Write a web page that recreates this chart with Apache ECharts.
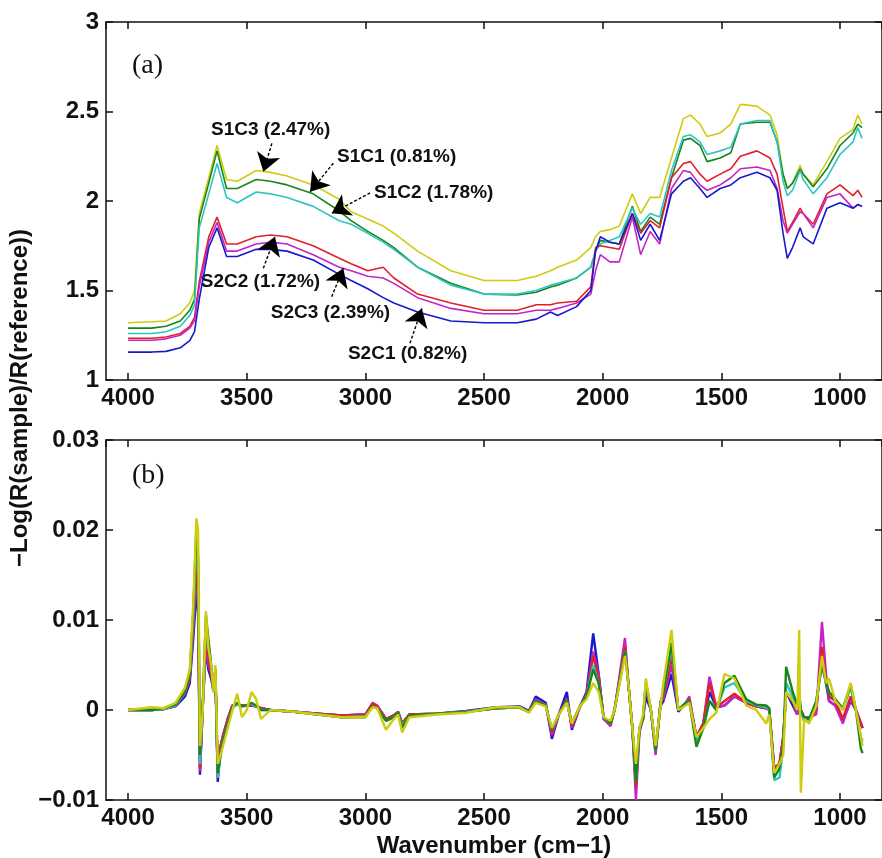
<!DOCTYPE html>
<html>
<head>
  <meta charset="UTF-8" />
  <title>Spectra S1/S2</title>
  <script src="https://cdn.jsdelivr.net/npm/echarts@6/dist/echarts.min.js"></script>
  <style>
    body { margin: 0; background: #fff; }
    #main { width: 882px; height: 858px; }
  </style>
</head>
<body>
  <div id="main"></div>
  <script>
    // ---- panel (a): spectra ----
    const wnA = [
      4000, 3900, 3840, 3780, 3740, 3720, 3700, 3660, 3625, 3585,
      3540, 3460, 3400, 3330, 3220, 3110, 3060, 2990, 2925, 2880,
      2780, 2640, 2500, 2360, 2280, 2220, 2190, 2110, 2050, 2030,
      2010, 1970, 1930, 1875, 1840, 1800, 1760, 1710, 1660, 1630,
      1590, 1560, 1505, 1460, 1420, 1350, 1295, 1265, 1240, 1222,
      1200, 1168, 1155, 1113, 1055, 1000, 945, 925, 907
    ];
    const aS1C3 = [
      1.32, 1.325, 1.33, 1.37, 1.43, 1.50, 1.93, 2.13, 2.31, 2.12,
      2.11, 2.17, 2.16, 2.14, 2.09, 2.01, 1.94, 1.90, 1.86, 1.82,
      1.72, 1.61, 1.556, 1.556, 1.58, 1.61, 1.63, 1.67, 1.74, 1.80,
      1.83, 1.84, 1.86, 2.04, 1.93, 2.02, 2.02, 2.24, 2.46, 2.48,
      2.43, 2.36, 2.38, 2.43, 2.54, 2.53, 2.48, 2.37, 2.15, 2.07,
      2.10, 2.20, 2.15, 2.09, 2.22, 2.35, 2.40, 2.48, 2.43
    ];
    const aS1C1 = [
      1.29, 1.29, 1.30, 1.33, 1.39, 1.45, 1.90, 2.10, 2.28, 2.07,
      2.07, 2.12, 2.11, 2.09, 2.04, 1.944, 1.89, 1.83, 1.78, 1.74,
      1.63, 1.54, 1.48, 1.475, 1.49, 1.52, 1.53, 1.57, 1.63, 1.72,
      1.78, 1.77, 1.76, 1.97, 1.83, 1.91, 1.87, 2.13, 2.34, 2.35,
      2.31, 2.22, 2.24, 2.27, 2.43, 2.44, 2.44, 2.33, 2.15, 2.07,
      2.10, 2.18, 2.15, 2.08, 2.18, 2.31, 2.38, 2.43, 2.41
    ];
    const aS1C2 = [
      1.26, 1.26, 1.27, 1.30, 1.36, 1.42, 1.85, 2.04, 2.21, 2.02,
      1.99, 2.05, 2.04, 2.02, 1.97, 1.89, 1.87, 1.82, 1.77, 1.73,
      1.63, 1.53, 1.48, 1.48, 1.50, 1.53, 1.54, 1.57, 1.63, 1.72,
      1.76, 1.78, 1.80, 1.96, 1.87, 1.93, 1.91, 2.17, 2.36, 2.37,
      2.33, 2.26, 2.28, 2.30, 2.43, 2.45, 2.45, 2.33, 2.11, 2.03,
      2.06, 2.17, 2.12, 2.04, 2.13, 2.26, 2.33, 2.41, 2.35
    ];
    const aS2C2 = [
      1.233, 1.233, 1.24, 1.26, 1.30, 1.35, 1.55, 1.80, 1.91, 1.76,
      1.76, 1.80, 1.81, 1.80, 1.75, 1.68, 1.65, 1.61, 1.63, 1.57,
      1.48, 1.43, 1.39, 1.39, 1.42, 1.42, 1.43, 1.44, 1.52, 1.74,
      1.75, 1.74, 1.73, 1.93, 1.82, 1.89, 1.85, 2.13, 2.21, 2.22,
      2.15, 2.11, 2.15, 2.18, 2.25, 2.28, 2.24, 2.15, 1.96, 1.83,
      1.88, 1.96, 1.93, 1.87, 2.04, 2.09, 2.03, 2.06, 2.02
    ];
    const aS2C3 = [
      1.222, 1.222, 1.23, 1.25, 1.29, 1.33, 1.52, 1.77, 1.88, 1.72,
      1.72, 1.76, 1.77, 1.76, 1.70, 1.63, 1.61, 1.58, 1.57, 1.54,
      1.46, 1.40, 1.37, 1.37, 1.39, 1.39, 1.40, 1.43, 1.48, 1.61,
      1.70, 1.66, 1.66, 1.91, 1.70, 1.83, 1.76, 2.07, 2.17, 2.16,
      2.09, 2.06, 2.09, 2.13, 2.18, 2.19, 2.17, 2.07, 1.89, 1.82,
      1.87, 1.94, 1.93, 1.85, 2.02, 2.04, 1.96, 1.98, 1.97
    ];
    const aS2C1 = [
      1.156, 1.156, 1.16, 1.18, 1.22, 1.27, 1.45, 1.74, 1.85, 1.69,
      1.69, 1.73, 1.73, 1.72, 1.67, 1.59, 1.556, 1.51, 1.46, 1.43,
      1.38, 1.33, 1.32, 1.32, 1.34, 1.38, 1.36, 1.41, 1.50, 1.72,
      1.80, 1.77, 1.76, 1.93, 1.78, 1.87, 1.78, 2.04, 2.11, 2.13,
      2.07, 2.02, 2.07, 2.09, 2.13, 2.16, 2.13, 2.06, 1.82, 1.68,
      1.74, 1.85, 1.80, 1.76, 1.96, 1.99, 1.96, 1.98, 1.97
    ];

    // ---- panel (b): difference spectra ----
    const wnB = [
      4000, 3900, 3850, 3800, 3760, 3740, 3725, 3712, 3705, 3697,
      3685, 3672, 3662, 3650, 3640, 3632, 3622, 3610, 3600, 3580,
      3560, 3540, 3520, 3500, 3480, 3460, 3440, 3400, 3300, 3200,
      3100, 3000, 2970, 2950, 2913, 2880, 2862, 2845, 2815, 2700,
      2575, 2450, 2350, 2311, 2282, 2240, 2214, 2185, 2151, 2130,
      2094, 2068, 2040, 2017, 1996, 1967, 1950, 1906, 1892, 1875,
      1860, 1845, 1830, 1818, 1797, 1777, 1756, 1744, 1710, 1681,
      1650, 1635, 1605, 1576, 1550, 1521, 1487, 1445, 1395, 1353,
      1311, 1298, 1277, 1255, 1239, 1227, 1199, 1180, 1172, 1165,
      1151, 1130, 1100, 1076, 1059, 1046, 1020, 988, 955, 933,
      912, 905
    ];
    const bS1C3 = [
      0, 0.0003, 0.0002, 0.0008, 0.0025, 0.0045, 0.012, 0.0213, 0.02, -0.004,
      0, 0.011, 0.007, 0.005, 0.002, 0.005, -0.006, -0.005, -0.004, -0.002,
      0, 0.0018, -0.0008, 0, 0.002, 0.0012, -0.001, 0, -0.0002, -0.0005,
      -0.0008, -0.0008, 0.0003, 0.0002, -0.0022, -0.001, -0.0005, -0.0025, -0.0008, -0.0005,
      -0.0003, 0.0003, 0.0003, -0.0003, 0.0008, 0.0004, -0.002, -0.0005, 0.0008, -0.0015,
      0.0005, 0.0012, 0.003, 0.002, -0.0008, -0.0012, 0, 0.006, 0.003, -0.002,
      -0.006, -0.002, -0.0005, 0.0035, 0, -0.004, 0.0005, 0.003, 0.0089, 0,
      0.0005, 0.0008, -0.003, -0.002, -0.001, -0.0003, 0.004, 0.0035, 0.0005, 0,
      -0.0015, -0.0005, -0.007, -0.006, -0.005, 0.002, 0.001, 0, 0.0089, -0.0092,
      -0.001, -0.0015, 0.0005, 0.006, 0.003, 0.0035, 0.001, 0, 0.003, 0,
      -0.003, -0.004
    ];
    const bS1C1 = [
      0, 0, 0.0002, 0.0006, 0.002, 0.004, 0.011, 0.0205, 0.017, -0.005,
      0.001, 0.0105, 0.008, 0.005, 0.0025, 0.004, -0.007, -0.005, -0.0035, -0.0015,
      0.0003, 0.0008, 0.0004, 0.0005, 0.0008, 0.0005, 0, 0, -0.0002, -0.0005,
      -0.0008, -0.0008, 0.0004, 0.0002, -0.0012, -0.0008, -0.0003, -0.002, -0.0006, -0.0004,
      -0.0002, 0.0002, 0.0003, -0.0002, 0.001, 0.0005, -0.0022, -0.0005, 0.001, -0.0015,
      0.0005, 0.0015, 0.0045, 0.003, -0.0008, -0.0015, 0, 0.0065, 0.003, -0.002,
      -0.008, -0.002, -0.001, 0.003, 0, -0.0045, 0.0008, 0.002, 0.0075, 0,
      0.0008, 0.001, -0.0041, -0.002, 0.001, 0, 0.003, 0.0038, 0.0012, 0.0006,
      0.0005, 0.0002, -0.0075, -0.0065, -0.004, 0.0048, 0.002, 0.0005, 0.002, 0,
      -0.0008, -0.001, 0.001, 0.005, 0.003, 0.002, 0.0012, 0.0002, 0.0028, 0,
      -0.0043, -0.0048
    ];
    const bS1C2 = [
      0, 0, 0.0001, 0.0005, 0.002, 0.004, 0.0105, 0.019, 0.016, -0.006,
      0.0005, 0.009, 0.0075, 0.005, 0.002, 0.004, -0.0075, -0.005, -0.0035, -0.0015,
      0.0003, 0.0006, 0.0004, 0.0005, 0.0007, 0.0004, 0, 0, -0.0002, -0.0005,
      -0.0008, -0.0007, 0.0004, 0.0002, -0.0012, -0.0008, -0.0003, -0.0018, -0.0006, -0.0004,
      -0.0002, 0.0002, 0.0003, -0.0002, 0.001, 0.0005, -0.0022, -0.0005, 0.001, -0.0015,
      0.0005, 0.0015, 0.005, 0.003, -0.0008, -0.0015, 0, 0.0065, 0.003, -0.002,
      -0.008, -0.002, -0.001, 0.003, 0, -0.0045, 0.0008, 0.002, 0.007, 0,
      0.0008, 0.001, -0.0035, -0.002, 0.001, 0, 0.0025, 0.003, 0.001, 0.0005,
      0.0003, 0, -0.0078, -0.0075, -0.004, 0.003, 0.0015, 0.0003, 0.0015, 0,
      -0.0012, -0.0012, 0.001, 0.005, 0.003, 0.002, 0.0012, 0, 0.0025, 0,
      -0.003, -0.0035
    ];
    const bS2C2 = [
      0, 0, 0.0001, 0.0005, 0.002, 0.0035, 0.01, 0.017, 0.013, -0.0065,
      0.0005, 0.008, 0.006, 0.004, 0.0025, 0.0045, -0.0075, -0.004, -0.003, -0.001,
      0.0005, 0.0006, 0.0005, 0.0005, 0.0005, 0.0004, 0.0002, 0, -0.0002, -0.0004,
      -0.0006, -0.0005, 0.0007, 0.0004, -0.001, -0.0006, -0.0002, -0.0015, -0.0005, -0.0004,
      -0.0002, 0.0002, 0.0003, -0.0002, 0.001, 0.0006, -0.0025, -0.0005, 0.0012, -0.0018,
      0.0005, 0.0016, 0.006, 0.0035, -0.0008, -0.0016, 0, 0.007, 0.003, -0.002,
      -0.0085, -0.002, -0.001, 0.003, 0, -0.0045, 0.0008, 0.0015, 0.006, 0,
      0.0008, 0.0012, -0.003, -0.0015, 0.003, 0.0003, 0.001, 0.0018, 0.0008, 0.0004,
      0.0002, 0, -0.0065, -0.006, -0.003, 0.002, 0.001, 0, 0.001, 0,
      -0.0012, -0.0012, 0, 0.007, 0.003, 0.0015, 0.001, -0.001, 0.0015, 0,
      -0.0015, -0.002
    ];
    const bS2C3 = [
      0, 0, 0.0001, 0.0005, 0.0018, 0.0035, 0.009, 0.015, 0.012, -0.0068,
      0.0005, 0.0075, 0.005, 0.004, 0.0025, 0.0045, -0.0075, -0.004, -0.003, -0.001,
      0.0005, 0.0006, 0.0005, 0.0005, 0.0005, 0.0004, 0.0002, 0, -0.0002, -0.0004,
      -0.0006, -0.0005, 0.0008, 0.0005, -0.001, -0.0006, -0.0002, -0.0015, -0.0005, -0.0004,
      -0.0002, 0.0002, 0.0003, -0.0002, 0.0012, 0.0006, -0.0028, -0.0005, 0.0012, -0.002,
      0.0005, 0.0018, 0.0065, 0.004, -0.001, -0.0018, 0, 0.008, 0.003, -0.002,
      -0.01, -0.0025, -0.001, 0.0025, 0, -0.005, 0.001, 0.0012, 0.005, 0,
      0.0008, 0.0015, -0.003, -0.0015, 0.0037, 0.0003, 0.0005, 0.0015, 0.0008, 0.0004,
      0.0002, 0, -0.0065, -0.006, -0.003, 0.002, 0.001, -0.0005, 0.0008, 0,
      -0.0008, -0.0008, -0.0005, 0.0098, 0.004, 0.001, 0.0005, -0.0015, 0.0012, 0,
      -0.0015, -0.002
    ];
    const bS2C1 = [
      0, 0, 0.0001, 0.0004, 0.0015, 0.003, 0.008, 0.013, 0.011, -0.0072,
      0.0005, 0.007, 0.0045, 0.0035, 0.002, 0.004, -0.008, -0.004, -0.0028, -0.001,
      0.0005, 0.0006, 0.0005, 0.0005, 0.0005, 0.0004, 0.0002, 0, -0.0002, -0.0004,
      -0.0006, -0.0005, 0.0006, 0.0004, -0.001, -0.0006, -0.0002, -0.0015, -0.0005, -0.0004,
      -0.0001, 0.0003, 0.0004, -0.0001, 0.0015, 0.0008, -0.0032, -0.0005, 0.002, -0.0022,
      0.0005, 0.002, 0.0085, 0.004, -0.001, -0.0015, 0, 0.007, 0.003, -0.002,
      -0.008, -0.002, -0.001, 0.0015, 0, -0.0045, 0.0005, 0.001, 0.004, -0.0002,
      0.0008, 0.001, -0.003, -0.0015, 0.002, 0.0003, 0.0005, 0.0015, 0.0008, 0.0004,
      0.0002, 0, -0.0065, -0.006, -0.003, 0.002, 0.0005, -0.0005, 0.0005, 0,
      -0.001, -0.001, 0, 0.0065, 0.003, 0.001, 0.0005, -0.0012, 0.001, 0,
      -0.0015, -0.002
    ];

    // ---- annotations in panel (a), data coordinates ----
    const annotNames = ['S1C3 (2.47%)', 'S1C1 (0.81%)', 'S1C2 (1.78%)',
                        'S2C2 (1.72%)', 'S2C3 (2.39%)', 'S2C1 (0.82%)'];
    const annotText = [[3397, 2.397], [2866, 2.246], [2710, 2.045],
                       [3440, 1.547], [3145, 1.374], [2820, 1.145]];
    const arrowFrom = [[3394, 2.322], [3135, 2.211], [2980, 2.045],
                       [3430, 1.624], [3142, 1.465], [2812, 1.205]];
    const arrowTo = [[3430, 2.164], [3233, 2.052], [3142, 1.931],
                     [3381, 1.80], [3093, 1.624], [2762, 1.40]];

    const SANS = "'Liberation Sans', Arial, Helvetica, sans-serif";
    const SERIF = "'Liberation Serif', 'Times New Roman', serif";
    const colors = {
      S1C3: '#cfcc10', S1C1: '#17861a', S1C2: '#2ec4c4',
      S2C2: '#e0202a', S2C3: '#c424c4', S2C1: '#1818cc'
    };

    const pair = (xs, ys) => xs.map((x, i) => [x, ys[i]]);
    const minusFmt = v => (v < 0 ? '\u2212' + String(-v) : String(v));

    function xAx(gridIndex, pos, labels) {
      return {
        type: 'value', gridIndex: gridIndex, position: pos,
        min: 823, max: 4093, inverse: true, splitNumber: 6,
        axisLine: { show: true, onZero: false, lineStyle: { color: '#111', width: 1.5 } },
        axisTick: { show: true, inside: true, length: 7, lineStyle: { color: '#111', width: 1.5 } },
        axisLabel: {
          show: labels, margin: 6, color: '#111', fontFamily: SANS,
          fontWeight: 'bold', fontSize: 24, showMinLabel: false, showMaxLabel: false,
          formatter: v => String(v)
        },
        splitLine: { show: false }
      };
    }
    function yAx(gridIndex, pos, labels, min, max, interval) {
      return {
        type: 'value', gridIndex: gridIndex, position: pos,
        min: min, max: max, interval: interval,
        axisLine: { show: true, onZero: false, lineStyle: { color: '#111', width: 1.5 } },
        axisTick: { show: true, inside: true, length: 7, lineStyle: { color: '#111', width: 1.5 } },
        axisLabel: {
          show: labels, margin: 7, color: '#111', fontFamily: SANS,
          fontWeight: 'bold', fontSize: 24, formatter: minusFmt
        },
        splitLine: { show: false }
      };
    }

    function lineSeries(name, xs, ys, xi, yi, w) {
      return {
        name: name, type: 'line', xAxisIndex: xi, yAxisIndex: yi,
        data: pair(xs, ys), showSymbol: false, symbol: 'none',
        lineStyle: { color: colors[name], width: w },
        itemStyle: { color: colors[name] }, silent: true
      };
    }

    const chart = echarts.init(document.getElementById('main'));
    chart.setOption({
      animation: false,
      backgroundColor: '#fff',
      grid: [
        { left: 106, right: 0, top: 22, height: 358, outerBoundsMode: 'none' },
        { left: 106, right: 0, top: 440, height: 360, outerBoundsMode: 'none' }
      ],
      xAxis: [
        xAx(0, 'bottom', true), xAx(0, 'top', false),
        xAx(1, 'bottom', true), xAx(1, 'top', false)
      ],
      yAxis: [
        yAx(0, 'left', true, 1, 3, 0.5), yAx(0, 'right', false, 1, 3, 0.5),
        yAx(1, 'left', true, -0.01, 0.03, 0.01), yAx(1, 'right', false, -0.01, 0.03, 0.01)
      ],
      series: [
        lineSeries('S1C3', wnA, aS1C3, 0, 0, 1.6),
        lineSeries('S1C1', wnA, aS1C1, 0, 0, 1.6),
        lineSeries('S1C2', wnA, aS1C2, 0, 0, 1.6),
        lineSeries('S2C2', wnA, aS2C2, 0, 0, 1.6),
        lineSeries('S2C3', wnA, aS2C3, 0, 0, 1.6),
        lineSeries('S2C1', wnA, aS2C1, 0, 0, 1.6),
        {
          name: 'annot', type: 'scatter', xAxisIndex: 0, yAxisIndex: 0,
          symbolSize: 1, itemStyle: { color: 'rgba(0,0,0,0)' }, silent: true,
          data: annotNames.map((n, i) => ({ name: n, value: annotText[i] })),
          label: {
            show: true, position: [0, 0], align: 'center', verticalAlign: 'middle',
            formatter: '{b}', color: '#111', opacity: 1, textBorderWidth: 0,
            fontFamily: SANS, fontWeight: 'bold', fontSize: 19
          },
          markLine: {
            silent: true, symbol: ['none', 'arrow'], symbolSize: 18,
            label: { show: false },
            itemStyle: { color: '#000' },
            lineStyle: { color: '#000', type: [3, 2], width: 1.4, opacity: 1 },
            data: arrowFrom.map((f, i) => [{ coord: f }, { coord: arrowTo[i] }])
          }
        },
        lineSeries('S2C1', wnB, bS2C1, 2, 2, 2.4),
        lineSeries('S2C3', wnB, bS2C3, 2, 2, 2.4),
        lineSeries('S2C2', wnB, bS2C2, 2, 2, 2.4),
        lineSeries('S1C2', wnB, bS1C2, 2, 2, 2.4),
        lineSeries('S1C1', wnB, bS1C1, 2, 2, 2.4),
        lineSeries('S1C3', wnB, bS1C3, 2, 2, 2.4)
      ],
      graphic: [
        { type: 'text', left: 132, top: 52, style: { text: '(a)', font: '28px ' + SERIF, fill: '#111' } },
        { type: 'text', left: 132, top: 462, style: { text: '(b)', font: '28px ' + SERIF, fill: '#111' } },
        {
          type: 'text', x: 20, y: 398, rotation: Math.PI / 2,
          style: {
            text: '\u2212Log(R(sample)/R(reference))', font: 'bold 24px ' + SANS,
            fill: '#111', textAlign: 'center', textVerticalAlign: 'middle'
          }
        },
        {
          type: 'text', x: 494, y: 846,
          style: {
            text: 'Wavenumber (cm\u22121)', font: 'bold 24px ' + SANS,
            fill: '#111', textAlign: 'center', textVerticalAlign: 'middle'
          }
        }
      ]
    });
  </script>
</body>
</html>
